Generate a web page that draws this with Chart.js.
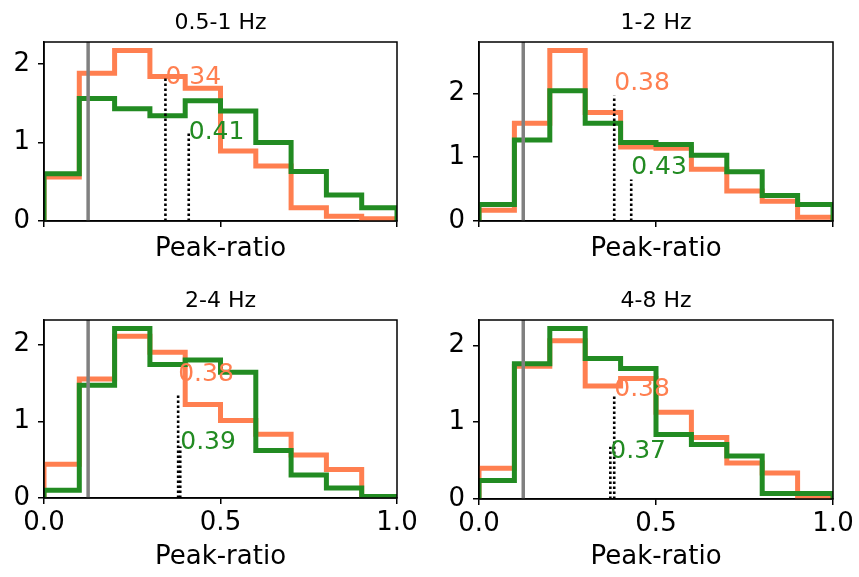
<!DOCTYPE html>
<html>
<head>
<meta charset="utf-8">
<title>Peak-ratio</title>
<script src="https://cdn.jsdelivr.net/npm/chart.js@4.4.0/dist/chart.umd.min.js"></script>
<style>
  body { margin: 0; background: #fff; }
  #wrap { position: relative; width: 859px; height: 577px; overflow: hidden; }
  .panel { position: absolute; }
</style>
</head>
<body>
<div id="wrap"></div>
<script>
// bin edges shared by all four histograms
var binEdges = [0, 0.1, 0.2, 0.3, 0.4, 0.5, 0.6, 0.7, 0.8, 0.9, 1.0];
var bandTitles = ['0.5-1 Hz', '1-2 Hz', '2-4 Hz', '4-8 Hz'];
var xTicks = [0, 0.5, 1.0];
var yTicks = [0, 1, 2];

// densities per bin, orange series
var orange_05_1 = [0.56, 1.88, 2.17, 1.84, 1.69, 0.89, 0.70, 0.17, 0.06, 0.03];
var orange_1_2  = [0.17, 1.53, 2.67, 1.70, 1.16, 1.14, 0.81, 0.47, 0.31, 0.06];
var orange_2_4  = [0.44, 1.55, 2.11, 1.90, 1.22, 1.01, 0.83, 0.56, 0.37, 0.00];
var orange_4_8  = [0.40, 1.73, 2.06, 1.47, 1.57, 1.13, 0.80, 0.47, 0.34, 0.02];

// densities per bin, green series
var green_05_1 = [0.60, 1.56, 1.43, 1.34, 1.53, 1.40, 1.00, 0.63, 0.33, 0.17];
var green_1_2  = [0.26, 1.27, 2.04, 1.53, 1.23, 1.20, 1.03, 0.77, 0.40, 0.26];
var green_2_4  = [0.10, 1.47, 2.21, 1.74, 1.80, 1.64, 0.62, 0.30, 0.13, 0.02];
var green_4_8  = [0.24, 1.76, 2.22, 1.83, 1.70, 0.84, 0.71, 0.56, 0.07, 0.07];

// medians (dotted lines) and how high each dotted line reaches
var orangeMedian = [0.344, 0.382, 0.380, 0.382];
var greenMedian  = [0.410, 0.430, 0.386, 0.371];
var orangeMedianTop = [1.82, 1.96, 1.36, 1.36];
var greenMedianTop  = [1.14, 0.65, 0.67, 0.68];
// where the median text sits (y, data units)
var orangeLabelY = [1.83, 2.15, 1.61, 1.42];
var greenLabelY  = [1.13, 0.84, 0.72, 0.62];

// threshold line
var refLine = 0.125;

var orangeBands = [orange_05_1, orange_1_2, orange_2_4, orange_4_8];
var greenBands = [green_05_1, green_1_2, green_2_4, green_4_8];

var ORANGE = '#ff7f50', GREEN = '#228b22', GREY = '#808080';
var FONT = 'DejaVu Sans';

// panel boxes in page pixels
var boxes = [
  {left: 0,   top: 0,   w: 429, h: 290, padTop: 42, padRight: 32, yW: 44, xH: 69, labels: false},
  {left: 430, top: 0,   w: 429, h: 290, padTop: 42, padRight: 26, yW: 49, xH: 69, labels: false},
  {left: 0,   top: 290, w: 429, h: 287, padTop: 30, padRight: 32, yW: 44, xH: 79, labels: true},
  {left: 430, top: 290, w: 429, h: 287, padTop: 30, padRight: 26, yW: 49, xH: 78, labels: true}
];

function stepPoints(vals) {
  // closed step outline: up at the first edge, down at the last
  var pts = [{x: binEdges[0], y: 0}];
  for (var i = 0; i < vals.length; i++) pts.push({x: binEdges[i], y: vals[i]});
  pts.push({x: binEdges[binEdges.length - 1], y: 0});
  return pts;
}

function fixedTicks(list) {
  return function(s) { s.ticks = list.map(function(v) { return {value: v}; }); };
}

function makePanel(k) {
  var b = boxes[k];
  var div = document.createElement('div');
  div.className = 'panel';
  div.style.left = b.left + 'px';
  div.style.top = b.top + 'px';
  div.style.width = b.w + 'px';
  div.style.height = b.h + 'px';
  var cv = document.createElement('canvas');
  div.appendChild(cv);
  document.getElementById('wrap').appendChild(div);

  var ymax = Math.max.apply(null, orangeBands[k].concat(greenBands[k])) * 1.05;

  var extras = {
    id: 'extras' + k,
    afterDatasetsDraw: function(chart) {
      var ctx = chart.ctx, a = chart.chartArea;
      var xs = chart.scales.x, ys = chart.scales.y;
      ctx.save();
      ctx.beginPath();
      ctx.rect(a.left, a.top, a.right - a.left, a.bottom - a.top);
      ctx.clip();

      // threshold
      var gx = xs.getPixelForValue(refLine);
      ctx.strokeStyle = GREY;
      ctx.lineWidth = 3.5;
      ctx.beginPath();
      ctx.moveTo(gx, a.bottom);
      ctx.lineTo(gx, a.top);
      ctx.stroke();

      // medians
      ctx.strokeStyle = '#000';
      ctx.lineWidth = 2.6;
      ctx.setLineDash([2.6, 2.4]);
      [[orangeMedian[k], orangeMedianTop[k]], [greenMedian[k], greenMedianTop[k]]].forEach(function(m) {
        var px = xs.getPixelForValue(m[0]);
        ctx.beginPath();
        ctx.moveTo(px, ys.getPixelForValue(0));
        ctx.lineTo(px, ys.getPixelForValue(m[1]));
        ctx.stroke();
      });
      ctx.restore();

      // median values as text
      ctx.save();
      ctx.font = '25px "' + FONT + '"';
      ctx.textAlign = 'left';
      ctx.textBaseline = 'middle';
      ctx.fillStyle = ORANGE;
      ctx.fillText(orangeMedian[k].toFixed(2), xs.getPixelForValue(orangeMedian[k]), ys.getPixelForValue(orangeLabelY[k]));
      ctx.fillStyle = GREEN;
      ctx.fillText(greenMedian[k].toFixed(2), xs.getPixelForValue(greenMedian[k]), ys.getPixelForValue(greenLabelY[k]));
      ctx.restore();
    },
    afterDraw: function(chart) {
      var ctx = chart.ctx, a = chart.chartArea;
      ctx.save();
      ctx.strokeStyle = '#000';
      ctx.lineWidth = 1.5;
      ctx.strokeRect(a.left, a.top, a.right - a.left, a.bottom - a.top);
      ctx.fillStyle = '#000';
      ctx.font = '22px "' + FONT + '"';
      ctx.textAlign = 'center';
      ctx.textBaseline = 'middle';
      ctx.fillText(bandTitles[k], (a.left + a.right) / 2, a.top - 19);
      ctx.restore();
    }
  };

  new Chart(cv, {
    type: 'line',
    data: {
      datasets: [
        {data: stepPoints(orangeBands[k]), borderColor: ORANGE, borderWidth: 5, stepped: 'before', order: 2,
         pointRadius: 0, fill: false, clip: 0, borderJoinStyle: 'miter', borderCapStyle: 'butt'},
        {data: stepPoints(greenBands[k]), borderColor: GREEN, borderWidth: 5, stepped: 'before', order: 1,
         pointRadius: 0, fill: false, clip: 0, borderJoinStyle: 'miter', borderCapStyle: 'butt'}
      ]
    },
    options: {
      responsive: true,
      maintainAspectRatio: false,
      animation: false,
      devicePixelRatio: 1,
      layout: {padding: {top: b.padTop, right: b.padRight, left: 0, bottom: 0}},
      plugins: {legend: {display: false}, tooltip: {enabled: false}},
      scales: {
        x: {
          type: 'linear', min: 0, max: 1,
          afterBuildTicks: fixedTicks(xTicks),
          afterFit: function(s) { s.height = b.xH; },
          ticks: {display: b.labels, padding: 4, color: '#000', autoSkip: false,
                  font: {family: FONT, size: 26},
                  callback: function(v) { return v.toFixed(1); }},
          grid: {drawOnChartArea: false, drawTicks: true, tickLength: 6, color: '#000', lineWidth: 1.5},
          border: {display: true, color: '#000', width: 1.5},
          title: {display: true, text: 'Peak-ratio', color: '#000',
                  font: {family: FONT, size: 26},
                  padding: {top: 0, bottom: b.labels ? 4 : 25}}
        },
        y: {
          min: 0, max: ymax,
          afterBuildTicks: fixedTicks(yTicks),
          afterFit: function(s) { s.width = b.yW; },
          ticks: {padding: 8, color: '#000', autoSkip: false, font: {family: FONT, size: 26}},
          grid: {drawOnChartArea: false, drawTicks: true, tickLength: 6, color: '#000', lineWidth: 1.5},
          border: {display: true, color: '#000', width: 1.5}
        }
      }
    },
    plugins: [extras]
  });
}

for (var k = 0; k < 4; k++) makePanel(k);
</script>
</body>
</html>
